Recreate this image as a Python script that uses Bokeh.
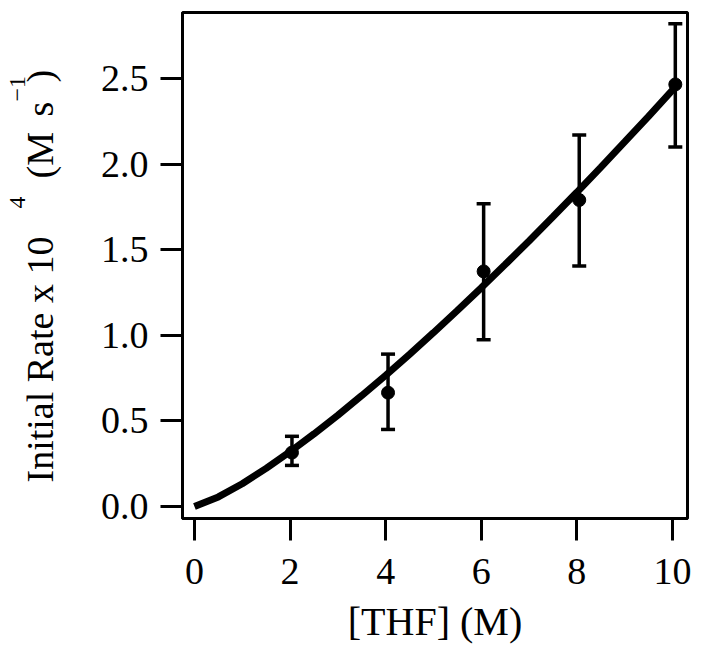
from bokeh.plotting import figure
from bokeh.layouts import row
from bokeh.models import ColumnDataSource, Whisker, TeeHead, Range1d, FixedTicker
from bokeh.core.properties import value
from bokeh.embed import file_html
from bokeh.resources import INLINE

# ---- data ----
thf = [2.04, 4.05, 6.05, 8.05, 10.06]
rate = [0.315, 0.665, 1.373, 1.79, 2.465]
rate_lower = [0.24, 0.45, 0.974, 1.405, 2.10]
rate_upper = [0.41, 0.89, 1.768, 2.17, 2.82]

fit_x = [0, 0.5, 1, 1.5, 2, 2.5, 3, 3.5, 4, 4.5, 5, 5.5, 6, 6.5, 7, 7.5, 8, 8.5, 9, 9.5, 10, 10.06]
fit_y = [0, 0.056, 0.133, 0.223, 0.32, 0.424, 0.533, 0.648, 0.766, 0.889, 1.015, 1.145,
         1.277, 1.413, 1.551, 1.692, 1.835, 1.981, 2.129, 2.279, 2.431, 2.45]

x_ticks = [0, 2, 4, 6, 8, 10]
y_ticks = [0.0, 0.5, 1.0, 1.5, 2.0, 2.5]
y_tick_labels = ["0.0", "0.5", "1.0", "1.5", "2.0", "2.5"]

y_title_main = ["Initial Rate x 10", "(M", "s", ")"]
y_title_sup = ["4", "\u22121"]

FONT = "Liberation Serif"

# ---- layout ----
H = 648
TOP, BOT = 12, 518          # page y of frame top / bottom
LAB_W = 80
X0, X1 = -0.25, 10.315
Y0, Y1 = -0.07, 2.885

# label column: frame aligned with the main plot's frame, 1 unit = 1 px, y = H - page_y
lab = figure(width=LAB_W, height=H, output_backend="svg", toolbar_location=None,
             x_range=Range1d(0, LAB_W), y_range=Range1d(H - BOT, H - TOP),
             x_axis_type=None, y_axis_type=None,
             min_border_left=0, min_border_right=0, min_border_top=TOP, min_border_bottom=H - BOT)
lab.outline_line_color = None
lab.grid.visible = False
lab.background_fill_color = "white"
lab.border_fill_color = "white"

# anchor x and start y (page px) of each piece
main_bx = [39, 39, 39, 39]
main_by = [482, 178, 116, 82]
sup_bx = [16.5, 16.5]
sup_by = [208, 101]

lab.text(x=main_bx, y=[H - v for v in main_by], text=y_title_main, angle=1.5707963267948966,
         text_font=value(FONT), text_font_size="38px", text_color="black",
         text_align="left", text_baseline="alphabetic")
lab.text(x=sup_bx, y=[H - v for v in sup_by], text=y_title_sup, angle=1.5707963267948966,
         text_font=value(FONT), text_font_size="24px", text_color="black",
         text_align="left", text_baseline="alphabetic")

p = figure(width=698 - LAB_W, height=H, output_backend="svg", toolbar_location=None,
           x_range=Range1d(X0, X1), y_range=Range1d(Y0, Y1),
           min_border_left=182 - LAB_W, min_border_right=11, min_border_top=TOP, min_border_bottom=H - BOT)
p.background_fill_color = "white"
p.border_fill_color = "white"
p.outline_line_color = "black"
p.outline_line_width = 3
p.grid.visible = False

for ax in (p.xaxis[0], p.yaxis[0]):
    ax.axis_line_color = "black"
    ax.axis_line_width = 3
    ax.major_tick_out = 22
    ax.major_tick_in = 0
    ax.major_tick_line_width = 3
    ax.major_tick_line_color = "black"
    ax.minor_tick_line_color = None
    ax.major_label_text_font = FONT
    ax.major_label_text_font_size = "38px"
    ax.major_label_text_color = "black"

p.xaxis.ticker = FixedTicker(ticks=x_ticks)
p.yaxis.ticker = FixedTicker(ticks=y_ticks)
p.yaxis.major_label_overrides = {t: l for t, l in zip(y_ticks, y_tick_labels)}
p.xaxis.major_label_standoff = 18
p.yaxis.major_label_standoff = 12

p.xaxis.axis_label = "[THF] (M)"
p.xaxis.axis_label_text_font = FONT
p.xaxis.axis_label_text_font_size = "40px"
p.xaxis.axis_label_text_font_style = "normal"
p.xaxis.axis_label_text_color = "black"
p.xaxis.axis_label_standoff = 12

# ---- fit curve ----
p.line(fit_x, fit_y, line_width=7, line_color="black")

# ---- error bars ----
src = ColumnDataSource(dict(x=thf, y=rate, lo=rate_lower, hi=rate_upper))
wh = Whisker(base="x", lower="lo", upper="hi", source=src,
             line_color="black", line_width=3.5,
             upper_head=TeeHead(size=14, line_width=3.5, line_color="black"),
             lower_head=TeeHead(size=14, line_width=3.5, line_color="black"))
p.add_layout(wh)

p.scatter("x", "y", source=src, size=13, color="black")

layout = row(lab, p)
open("out.html", "w").write(file_html(layout, INLINE))
